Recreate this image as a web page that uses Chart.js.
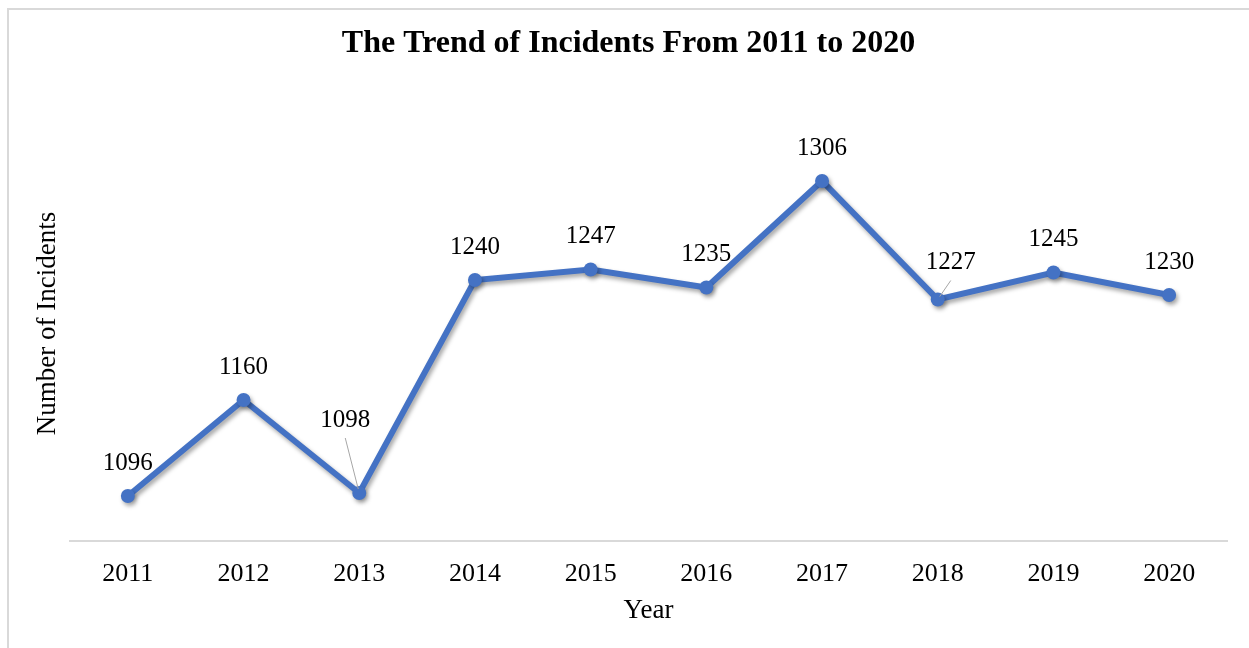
<!DOCTYPE html>
<html>
<head>
<meta charset="utf-8">
<title>The Trend of Incidents From 2011 to 2020</title>
<script src="https://cdn.jsdelivr.net/npm/chart.js@4/dist/chart.umd.min.js"></script>
<style>
    html, body { margin: 0; padding: 0; background: #fff; overflow: hidden; }
    #frame {
        position: absolute; left: 7px; top: 8px; width: 1300px; height: 700px;
        border-left: 2px solid #d9d9d9; border-top: 2px solid #d9d9d9;
    }
    #wrap { position: absolute; left: 0; top: 0; width: 1249px; height: 648px; }
</style>
</head>
<body>
<div id="frame"></div>
<div id="wrap"><canvas id="incidents"></canvas></div>
<script>
const years = ['2011', '2012', '2013', '2014', '2015', '2016', '2017', '2018', '2019', '2020'];
const incidents = [1096, 1160, 1098, 1240, 1247, 1235, 1306, 1227, 1245, 1230];

const FONT = '"Liberation Serif", "Times New Roman", serif';
const LINE_BLUE = '#4472C4';

// labels that sit off to the side get a leader line back to the point
const labelNudge = {
    2: { dx: -14, dy: -73, leader: [[-14, -55], [-1, -4]] },
    7: { dx: 13, dy: -37, leader: [[13, -19], [2, -3]] }
};

const lineShadow = {
    id: 'lineShadow',
    beforeDatasetDraw(chart) {
        const ctx = chart.ctx;
        ctx.save();
        ctx.shadowColor = 'rgba(0,0,0,0.35)';
        ctx.shadowBlur = 4;
        ctx.shadowOffsetX = 2;
        ctx.shadowOffsetY = 3;
    },
    afterDatasetDraw(chart) {
        chart.ctx.restore();
    }
};

const valueLabels = {
    id: 'valueLabels',
    afterDatasetsDraw(chart) {
        const ctx = chart.ctx;
        const meta = chart.getDatasetMeta(0);
        ctx.save();
        ctx.font = '25px ' + FONT;
        ctx.fillStyle = '#000';
        ctx.textAlign = 'center';
        ctx.textBaseline = 'middle';
        meta.data.forEach((pt, i) => {
            const nudge = labelNudge[i] || { dx: 0, dy: -33 };
            if (nudge.leader) {
                ctx.strokeStyle = '#a6a6a6';
                ctx.lineWidth = 1;
                ctx.beginPath();
                ctx.moveTo(pt.x + nudge.leader[0][0], pt.y + nudge.leader[0][1]);
                ctx.lineTo(pt.x + nudge.leader[1][0], pt.y + nudge.leader[1][1]);
                ctx.stroke();
            }
            ctx.fillText(String(chart.data.datasets[0].data[i]), pt.x + nudge.dx, pt.y + nudge.dy);
        });
        ctx.restore();
    }
};

new Chart(document.getElementById('incidents'), {
    type: 'line',
    data: {
        labels: years,
        datasets: [{
            label: 'Number of Incidents',
            data: incidents,
            borderColor: LINE_BLUE,
            backgroundColor: LINE_BLUE,
            borderWidth: 6,
            pointRadius: 7,
            pointBackgroundColor: LINE_BLUE,
            pointBorderColor: LINE_BLUE,
            pointBorderWidth: 0,
            tension: 0,
            fill: false
        }]
    },
    options: {
        responsive: true,
        maintainAspectRatio: false,
        animation: false,
        layout: { padding: { left: 30, right: 22, top: 0, bottom: 0 } },
        plugins: {
            legend: { display: false },
            tooltip: { enabled: false },
            title: {
                display: true,
                text: 'The Trend of Incidents From 2011 to 2020',
                color: '#000',
                font: { family: FONT, size: 32, weight: 'bold' },
                padding: { top: 25, bottom: 42.6 }
            }
        },
        scales: {
            x: {
                offset: true,
                grid: { display: true, color: 'rgba(0,0,0,0)', drawTicks: false },
                border: { display: true, color: '#d9d9d9', width: 2 },
                ticks: { color: '#000', font: { family: FONT, size: 26 }, padding: 18 },
                title: {
                    display: true, text: 'Year', color: '#000',
                    font: { family: FONT, size: 27 },
                    padding: { top: 21, bottom: 21 }
                },
                afterFit(scale) { scale.height = 107; }
            },
            y: {
                min: 1066,
                max: 1356,
                grid: { display: false },
                border: { display: false },
                ticks: { display: false },
                title: {
                    display: true, text: 'Number of Incidents', color: '#000',
                    font: { family: FONT, size: 27 },
                    padding: { top: 2, bottom: 2 }
                },
                afterFit(scale) { scale.width = 40; }
            }
        }
    },
    plugins: [lineShadow, valueLabels]
});
</script>
</body>
</html>
